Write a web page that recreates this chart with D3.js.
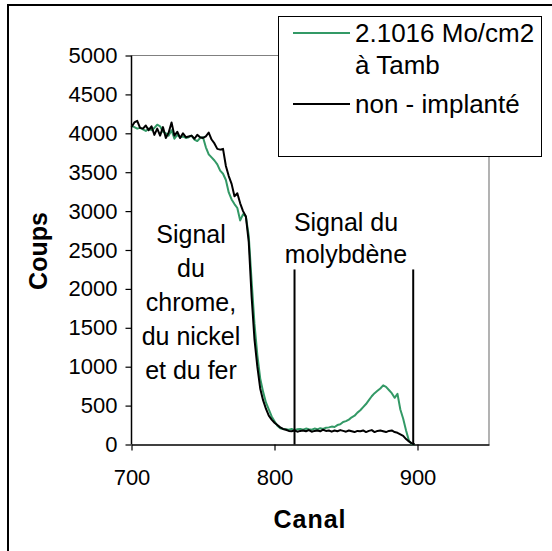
<!DOCTYPE html>
<html>
<head>
<meta charset="utf-8">
<script src="https://cdn.jsdelivr.net/npm/d3@7"></script>
<style>
  html, body { margin: 0; padding: 0; background: #fff; }
  svg { display: block; font-family: "Liberation Sans", Arial, sans-serif; }
</style>
</head>
<body>
<svg id="chart" width="552" height="551"></svg>
<script>
// RBS spectra: counts per channel
const canal = [
  700,702,704,706,708,710,712,714,716,718,
  720,722,724,726,728,730,732,734,736,738,
  740,742,744,746,748,750,752,754,756,758,
  760,762,764,766,768,770,772,774,776,778,
  780,782,784,786,788,790,792,794,796,798,
  800,802,804,806,808,810,812,814,816,818,
  820,822,824,826,828,830,832,834,836,838,
  840,842,844,846,848,850,852,854,856,858,
  860,862,864,866,868,870,872,874,876,878,
  880,882,884,886,888,890,892,894,896,898
];

// 2.1016 Mo/cm2 implanted at ambient temperature
const implante = [
  4100,4080,4060,4070,4050,4030,4060,4040,4070,4110,
  4090,4020,4000,3970,4040,3930,3980,3950,3960,3940,
  3950,3970,3920,3900,3940,3950,3820,3730,3690,3650,
  3600,3520,3480,3400,3240,3150,3090,3040,2880,2960,
  2930,2680,2100,1550,1150,850,680,540,450,360,
  300,240,210,200,195,190,200,185,195,200,
  190,205,195,190,205,195,210,200,215,220,
  230,225,250,260,290,300,320,350,370,410,
  440,480,520,570,620,660,690,720,760,740,
  700,660,600,650,450,330,180,50,5,0
];

// reference sample, not implanted
const nonImplante = [
  4080,4140,4160,4070,4060,4100,4040,4090,3980,4060,
  3970,4080,3940,4010,4140,3970,4020,3940,4000,3950,
  3960,3970,3930,3980,3950,3940,3960,4010,3920,3870,
  3800,3790,3800,3580,3450,3350,3190,3230,3100,3000,
  2930,2600,1900,1350,1000,720,570,460,370,320,
  280,250,220,200,190,175,170,180,165,175,
  180,170,185,165,175,180,170,190,175,180,
  165,180,170,185,175,165,180,170,160,175,
  170,180,160,175,185,160,175,180,170,160,
  175,180,160,150,130,110,70,40,15,0
];

const xTicks = [700, 800, 900];
const yTicks = [0, 500, 1000, 1500, 2000, 2500, 3000, 3500, 4000, 4500, 5000];

// limits of the molybdenum window
const moWindow = [814, 897];
const moWindowTop = 2250;

const seriesNames = ["2.1016 Mo/cm2", "à Tamb"];
const refName = "non - implanté";

const svg = d3.select("#chart");

// outer chart frame
svg.append("rect")
  .attr("x", 8).attr("y", 5)
  .attr("width", 600).attr("height", 600)
  .attr("fill", "none").attr("stroke", "#000").attr("stroke-width", 2);

const x = d3.scaleLinear().domain([700, 950]).range([131.5, 489]);
const y = d3.scaleLinear().domain([0, 5000]).range([444.5, 55.5]);

// plot area border (top and right)
svg.append("path")
  .attr("d", `M${x(700)},${y(5000)}H${x(950)}V${y(0)}`)
  .attr("fill", "none").attr("stroke", "#808080").attr("stroke-width", 1.2);

// axes
const yAxis = svg.append("g")
  .attr("transform", `translate(${x(700)},0)`)
  .call(d3.axisLeft(y).tickValues(yTicks).tickSize(6).tickPadding(8).tickFormat(d3.format("d")));
const xAxis = svg.append("g")
  .attr("transform", `translate(0,${y(0)})`)
  .call(d3.axisBottom(x).tickValues(xTicks).tickSize(6).tickPadding(19).tickSizeOuter(0).tickFormat(d3.format("d")));

[yAxis, xAxis].forEach(g => {
  g.select(".domain").attr("stroke", "#000").attr("stroke-width", 1.5);
  g.selectAll(".tick line").attr("stroke", "#000").attr("stroke-width", 1.2);
  g.selectAll(".tick text")
    .attr("fill", "#000")
    .style("font-family", "\"Liberation Sans\", Arial, sans-serif")
    .style("font-size", "22px");
});
yAxis.select(".domain").attr("d", `M0,${y(5000)}V${y(0)}`);

// spectra
const line = d3.line()
  .x((d, i) => x(canal[i]))
  .y(d => y(d));

svg.append("path")
  .datum(implante)
  .attr("d", line)
  .attr("fill", "none").attr("stroke", "#339966").attr("stroke-width", 2)
  .attr("stroke-linejoin", "round");

svg.append("path")
  .datum(nonImplante)
  .attr("d", line)
  .attr("fill", "none").attr("stroke", "#000").attr("stroke-width", 2)
  .attr("stroke-linejoin", "round");

// molybdenum window markers
svg.selectAll("line.mo")
  .data(moWindow)
  .join("line")
  .attr("class", "mo")
  .attr("x1", d => x(d)).attr("x2", d => x(d))
  .attr("y1", y(moWindowTop)).attr("y2", y(0))
  .attr("stroke", "#000").attr("stroke-width", 2);

// annotations
const leftNote = ["Signal", "du", "chrome,", "du nickel", "et du fer"];
svg.append("text")
  .attr("font-size", 25)
  .attr("text-anchor", "middle")
  .selectAll("tspan")
  .data(leftNote)
  .join("tspan")
  .attr("x", 191)
  .attr("y", (d, i) => 243 + i * 34)
  .text(d => d);

const rightNote = ["Signal du", "molybdène"];
svg.append("text")
  .attr("font-size", 25)
  .attr("text-anchor", "middle")
  .selectAll("tspan")
  .data(rightNote)
  .join("tspan")
  .attr("x", 346)
  .attr("y", (d, i) => 231 + i * 32)
  .text(d => d);

// axis titles
svg.append("text")
  .attr("transform", "translate(47,251) rotate(-90)")
  .attr("text-anchor", "middle")
  .attr("font-size", 25).attr("font-weight", "bold")
  .text("Coups");

svg.append("text")
  .attr("x", 310).attr("y", 528)
  .attr("text-anchor", "middle")
  .attr("font-size", 25).attr("font-weight", "bold")
  .attr("letter-spacing", 1)
  .text("Canal");

// legend
const legend = svg.append("g");
legend.append("rect")
  .attr("x", 278.5).attr("y", 16.5)
  .attr("width", 263).attr("height", 140)
  .attr("fill", "#fff").attr("stroke", "#000").attr("stroke-width", 1);

legend.append("line")
  .attr("x1", 293).attr("x2", 350).attr("y1", 33).attr("y2", 33)
  .attr("stroke", "#339966").attr("stroke-width", 2);
legend.append("text")
  .attr("font-size", 26)
  .selectAll("tspan")
  .data(seriesNames)
  .join("tspan")
  .attr("x", 355)
  .attr("y", (d, i) => 42 + i * 32)
  .text(d => d);

legend.append("line")
  .attr("x1", 293).attr("x2", 350).attr("y1", 104).attr("y2", 104)
  .attr("stroke", "#000").attr("stroke-width", 2);
legend.append("text")
  .attr("x", 355).attr("y", 113)
  .attr("font-size", 26)
  .text(refName);
</script>
</body>
</html>
